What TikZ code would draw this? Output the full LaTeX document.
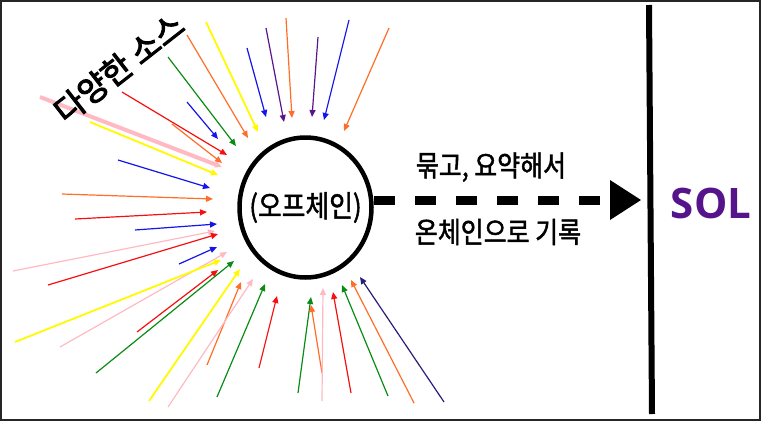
\documentclass[tikz,border=0pt]{standalone}
\usepackage{fontspec}
\setmainfont{Noto Sans CJK KR}[FakeStretch=0.86,FakeBold=1.5]
\newfontfamily\srcfont{Noto Sans CJK KR}[FakeBold=3]
\newfontfamily\solfont{Open Sans}
\usetikzlibrary{arrows.meta,shapes.geometric}
\definecolor{srcred}{RGB}{245,15,15}
\definecolor{srcblue}{RGB}{20,20,235}
\definecolor{srcgreen}{RGB}{10,140,20}
\definecolor{srcorange}{RGB}{255,110,40}
\definecolor{srcyellow}{RGB}{255,250,0}
\definecolor{srcpink}{RGB}{255,185,195}
\definecolor{srcpurple}{RGB}{90,20,140}
\definecolor{srcnavy}{RGB}{40,30,120}
\definecolor{solpurple}{RGB}{85,20,140}
\tikzset{
	src/.style={-{Triangle[length=7pt,width=6pt]}},
	lbl/.style={font=\fontsize{29}{34}\selectfont},
	sumline/.style={line width=9pt,dash pattern=on 21pt off 20pt,
		-{Triangle[length=31pt,width=40pt,line width=0pt]}}
}
\begin{document}
\begin{tikzpicture}[x=1pt,y=-1pt]
			\useasboundingbox (0,0) rectangle (761,421);
			\draw[line width=2pt,black!85] (1,1) rectangle (760,420);

			% sources
			\foreach \c/\w/\xa/\ya/\xb/\yb [count=\i] in {
				srcpink/4/40/97/222/167, srcred/1.2/122/92/227/155,
				srcorange/1.2/172/124/222/163, srcyellow/1.8/90/122/218/175,
				srcblue/1.2/118/160/210/188, srcorange/1.2/62/194/213/199,
				srcblue/1.2/187/102/218/139, srcgreen/1.2/168/57/236/146,
				srcorange/1.2/187/35/248/138, srcyellow/1.8/206/22/258/132,
				srcblue/1.2/247/48/266/117, srcpurple/1.2/266/28/284/122,
				srcorange/1.2/286/18/292/118, srcpurple/1.2/318/37/312/117,
				srcblue/1.2/349/20/324/120, srcorange/1.2/389/28/344/131,
				srcred/1.2/75/219/207/212, srcblue/1.2/135/230/217/224,
				srcpink/1.2/13/271/215/231, srcred/1.2/48/285/218/234,
				srcblue/1.2/179/264/217/247, srcpink/1.2/60/347/227/252,
				srcyellow/1.8/15/342/221/260, srcred/1.2/137/332/218/270,
				srcgreen/1.2/96/373/234/261, srcyellow/1.8/149/401/240/269,
				srcorange/1.2/207/365/241/282, srcpink/1.2/168/407/253/279,
				srcgreen/1.2/217/397/265/284, srcred/1.2/259/368/277/296,
				srcgreen/1.2/298/393/311/297, srcorange/1.2/322/373/311/305,
				srcpink/1.2/322/401/323/288, srcred/1.2/351/393/333/292,
				srcgreen/1.2/388/396/342/285, srcorange/1.2/414/403/351/280,
				srcnavy/1.2/444/402/360/277}{
				\coordinate (s\i) at (\xa,\ya);
				\coordinate (e\i) at (\xb,\yb);
				\draw[src,draw=\c,line width=\w pt] (s\i)--(e\i);
			}
			\node[rotate=38,font=\srcfont\fontsize{32}{38}\selectfont] (srcs) at (119,68) {다양한 소스};

			\node[draw,ellipse,line width=4.5pt,minimum width=132pt,minimum height=140pt] (chain) at (305.5,207.5) {};
			\node[lbl,font=\fontsize{30}{36}\selectfont] (chaintxt) at (chain.center) {(오프체인)};

			\coordinate (tip) at (641,200);
			\draw[sumline] (chain.east |- tip)--(tip);
			\node[lbl] (bundle) at (491,167) {묶고, 요약해서};
			\node[lbl] (record) at (498,232) {온체인으로 기록};

			\coordinate (wtop) at (649,5);
			\coordinate (wbot) at (652,414);
			\draw[line width=6pt] (wtop)--(wbot);
			\node[text=solpurple,font=\solfont\bfseries\fontsize{42}{48}\selectfont] (sol) at (711,203) {SOL};
		\end{tikzpicture}
\end{document}
